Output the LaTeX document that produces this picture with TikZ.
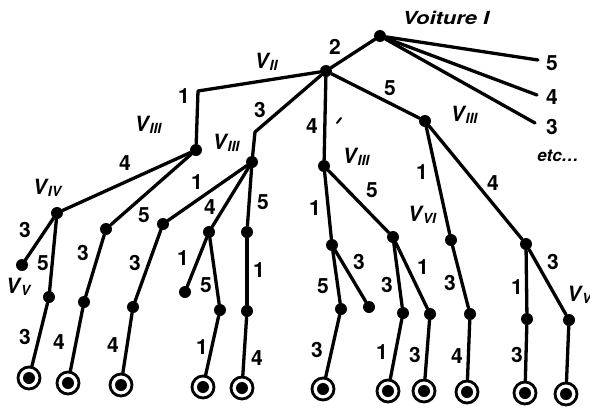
\documentclass[tikz,border=0pt]{standalone}
\usepackage{fontspec}
\setmainfont{TeX Gyre Heros}
\newcommand\Vlab[1]{{\fontsize{21}{22}\selectfont\itshape V}\kern1pt\raisebox{-0.45ex}{\fontsize{14}{14}\selectfont\itshape #1}}
\begin{document}
\begin{tikzpicture}[x=1pt,y=-1pt,
  dot/.style={circle,fill=black,inner sep=0pt,minimum size=12pt},
  term/.style={circle,draw=black,line width=2.8pt,inner sep=0pt,minimum size=22pt,
     path picture={\fill[black] (path picture bounding box.center) circle (6pt);}},
  edge/.style={line width=3.3pt,line join=round,line cap=round},
  num/.style={font=\bfseries\fontsize{21}{21}\selectfont,inner sep=0pt},
  vl/.style={font=\bfseries,inner sep=0pt}]
\useasboundingbox (0,0) rectangle (590,410);
% nodes
\node[dot] (root) at (380,36) {};
\node[dot] (v2) at (326,71) {};
\node[dot] (a1) at (196,150) {};
\node[dot] (b) at (252,162) {};
\node[dot] (c) at (324,166) {};
\node[dot] (d) at (425,121) {};
\node[dot] (iv) at (57,213) {};
\node[dot] (n1) at (22,265) {};
\node[dot] (n2) at (49,297) {};
\node[term] (t1) at (29,378) {};
\node[dot] (p) at (106,229) {};
\node[dot] (p2) at (84,302) {};
\node[term] (t2) at (68,383) {};
\node[dot] (q) at (163,224) {};
\node[dot] (q2) at (133,307) {};
\node[term] (t3) at (121,385) {};
\node[dot] (r) at (209,232) {};
\node[dot] (r1) at (185,292) {};
\node[dot] (r2) at (220,310) {};
\node[term] (t4) at (203,387) {};
\node[dot] (s) at (247,232) {};
\node[dot] (s2) at (247,311) {};
\node[term] (t5) at (242,388) {};
\node[dot] (u) at (332,245) {};
\node[dot] (u1) at (341,309) {};
\node[term] (t6) at (323,389) {};
\node[dot] (u2) at (369,307) {};
\node[dot] (w) at (393,237) {};
\node[dot] (w1) at (403,313) {};
\node[term] (t7) at (388,391) {};
\node[dot] (w2) at (430,314) {};
\node[term] (t8) at (424,391) {};
\node[dot] (x) at (451,240) {};
\node[dot] (x2) at (470,314) {};
\node[term] (t9) at (467,392) {};
\node[dot] (y) at (526,244) {};
\node[dot] (y1) at (527,319) {};
\node[term] (t10) at (525,393) {};
\node[dot] (y2) at (569,320) {};
\node[term] (t11) at (566,394) {};
\coordinate (c1) at (198,91);
\coordinate (c2) at (255,132);
\coordinate (e5) at (538,60);
\coordinate (e4) at (537,95);
\coordinate (e3) at (535,123);
% edges
\draw[edge] (root) -- (e5);
\draw[edge] (root) -- (e4);
\draw[edge] (root) -- (e3);
\draw[edge] (root) -- (v2);
\draw[edge] (v2) -- (c1) -- (a1);
\draw[edge] (v2) -- (c2) -- (b);
\draw[edge] (v2) -- (c);
\draw[edge] (v2) -- (d);
\draw[edge] (a1) -- (iv);
\draw[edge] (a1) -- (p);
\draw[edge] (iv) -- (n1);
\draw[edge] (iv) -- (n2);
\draw[edge] (n2) -- (t1);
\draw[edge] (p) -- (p2);
\draw[edge] (p2) -- (t2);
\draw[edge] (b) -- (q);
\draw[edge] (q) -- (q2);
\draw[edge] (q2) -- (t3);
\draw[edge] (b) -- (r);
\draw[edge] (r) -- (r1);
\draw[edge] (r) -- (r2);
\draw[edge] (r2) -- (t4);
\draw[edge] (b) -- (s);
\draw[edge] (s) -- (s2);
\draw[edge] (s2) -- (t5);
\draw[edge] (c) -- (u);
\draw[edge] (u) -- (u1);
\draw[edge] (u1) -- (t6);
\draw[edge] (u) -- (u2);
\draw[edge] (c) -- (w);
\draw[edge] (w) -- (w1);
\draw[edge] (w1) -- (t7);
\draw[edge] (w) -- (w2);
\draw[edge] (w2) -- (t8);
\draw[edge] (d) -- (x);
\draw[edge] (x) -- (x2);
\draw[edge] (x2) -- (t9);
\draw[edge] (d) -- (y);
\draw[edge] (y) -- (y1);
\draw[edge] (y1) -- (t10);
\draw[edge] (y) -- (y2);
\draw[edge] (y2) -- (t11);
% stray tick
\coordinate (tk1) at (337,123);
\coordinate (tk2) at (341,118);
\draw[line width=2pt,line cap=round] (tk1) -- (tk2);
% labels
\node[vl,font=\bfseries\itshape\fontsize{18}{18}\selectfont] (lroot) at (446,18) {\scalebox{1.22}[1]{Voiture I}};
\node[num] (l1) at (335,47) {2};
\node[num] (l2) at (552,63) {5};
\node[num] (l3) at (552,97) {4};
\node[num] (l4) at (552,127) {3};
\node[vl,font=\bfseries\itshape\fontsize{17}{17}\selectfont] (l5) at (558,156) {etc\dots};
\node[vl] (l6) at (266,62) {\Vlab{II}};
\node[num] (l7) at (184,96) {1};
\node[vl] (l8) at (148,125) {\Vlab{III}};
\node[vl] (l9) at (226,143) {\Vlab{III}};
\node[num] (l10) at (260,110) {3};
\node[num] (l11) at (312,126) {4};
\node[vl] (l12) at (356,157) {\Vlab{III}};
\node[num] (l13) at (390,88) {5};
\node[vl] (l14) at (464,115) {\Vlab{III}};
\node[num] (l15) at (125,163) {4};
\node[vl] (l16) at (47,188) {\Vlab{IV}};
\node[num] (l17) at (144,215) {5};
\node[num] (l18) at (197,182) {1};
\node[num] (l19) at (210,207) {4};
\node[num] (l20) at (263,202) {5};
\node[num] (l21) at (25,230) {3};
\node[num] (l22) at (43,263) {5};
\node[vl] (l23) at (18,287) {\Vlab{V}};
\node[num] (l24) at (25,337) {3};
\node[num] (l25) at (83,253) {3};
\node[num] (l26) at (59,342) {4};
\node[num] (l27) at (135,263) {3};
\node[num] (l28) at (113,345) {4};
\node[num] (l29) at (183,258) {1};
\node[num] (l30) at (206,285) {5};
\node[num] (l31) at (202,347) {1};
\node[num] (l32) at (259,270) {1};
\node[num] (l33) at (257,358) {4};
\node[num] (l34) at (315,208) {1};
\node[num] (l35) at (372,190) {5};
\node[num] (l36) at (323,286) {5};
\node[num] (l37) at (317,350) {3};
\node[num] (l38) at (359,262) {3};
\node[num] (l39) at (387,285) {3};
\node[num] (l40) at (382,352) {1};
\node[num] (l41) at (423,267) {1};
\node[num] (l42) at (415,355) {3};
\node[num] (l43) at (422,172) {1};
\node[vl] (l44) at (422,215) {\Vlab{VI}};
\node[num] (l45) at (493,183) {4};
\node[num] (l46) at (450,283) {3};
\node[num] (l47) at (457,356) {4};
\node[num] (l48) at (517,287) {1};
\node[num] (l49) at (517,355) {3};
\node[num] (l50) at (553,262) {3};
\node[vl,anchor=west] (l51) at (567,295) {\Vlab{V}};
\end{tikzpicture}
\end{document}
